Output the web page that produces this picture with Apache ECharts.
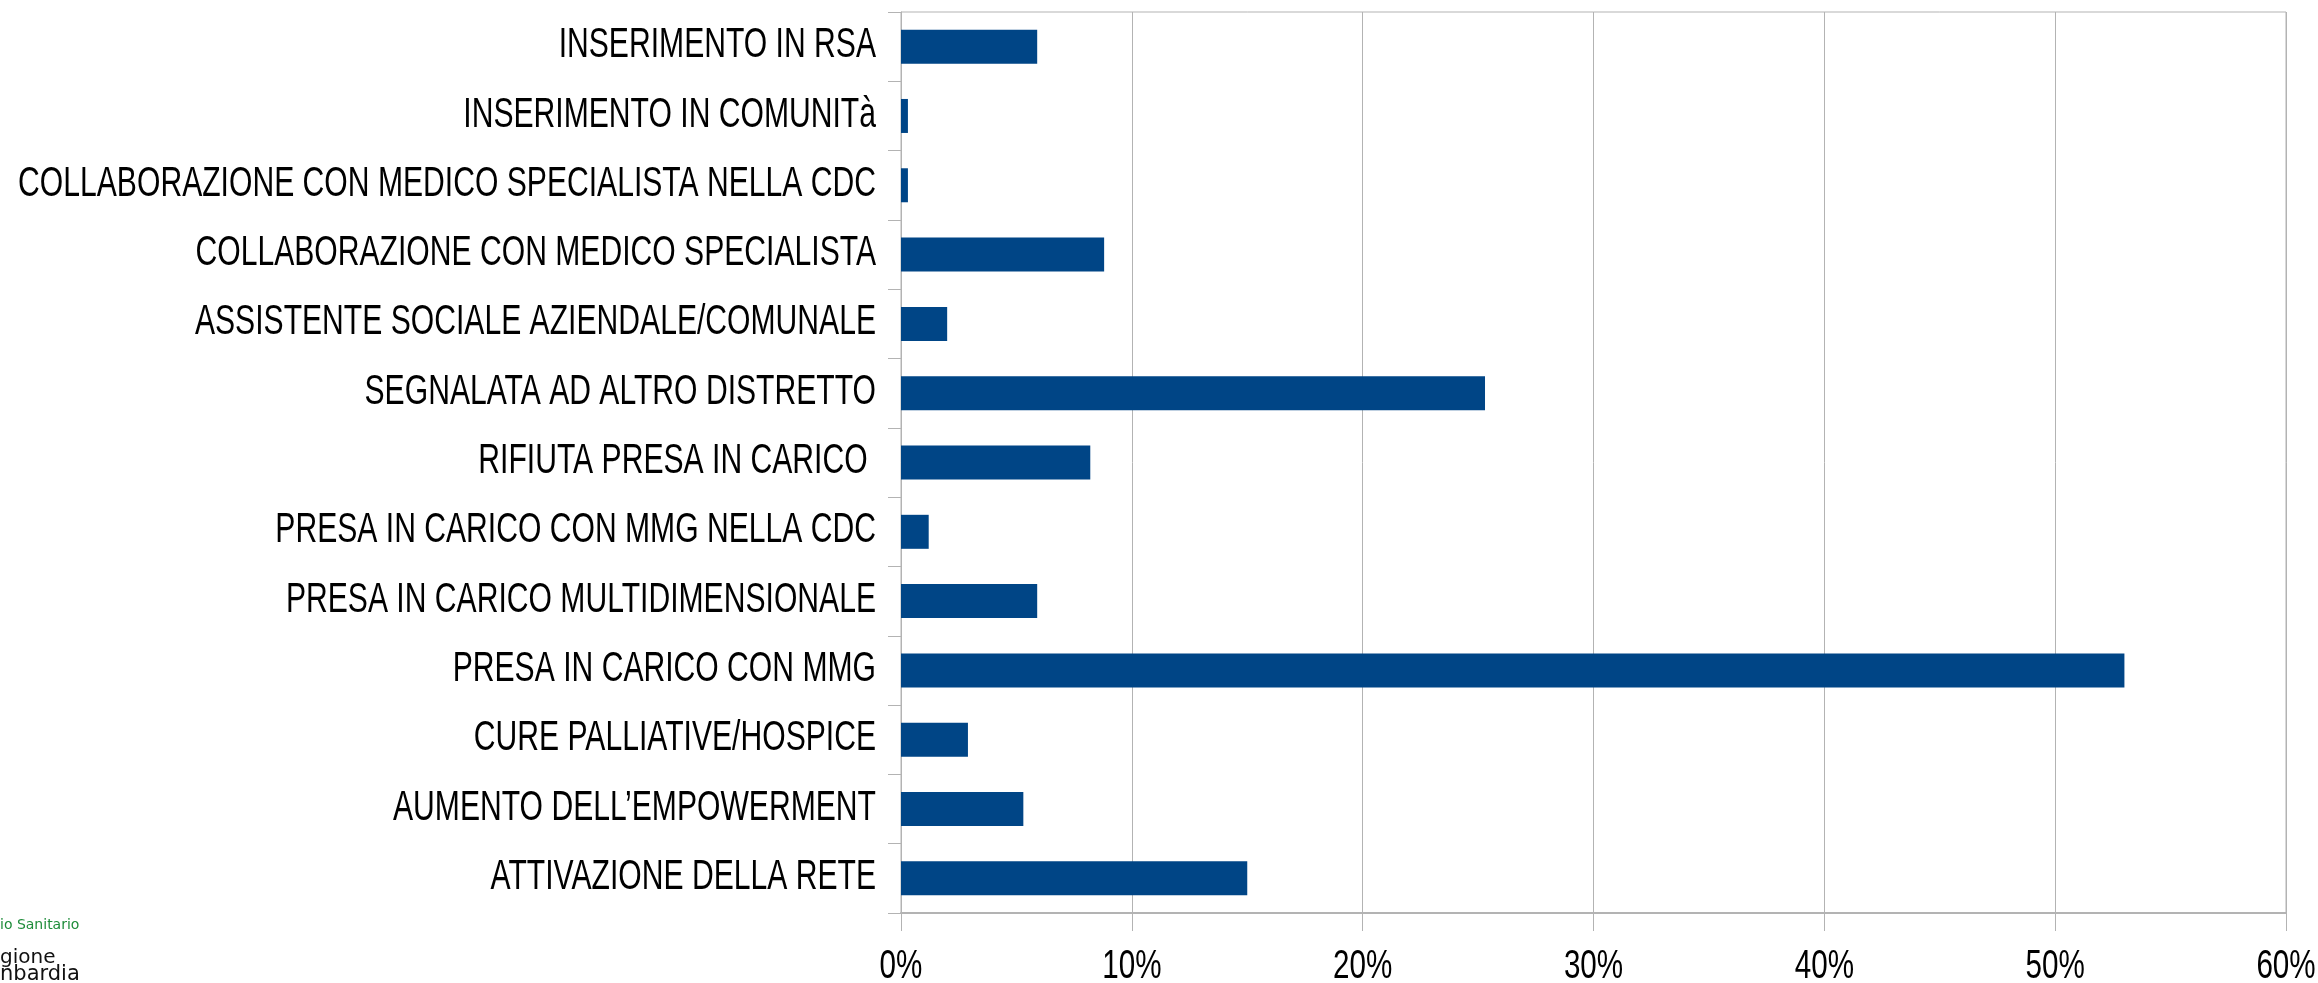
<!DOCTYPE html>
<html>
<head>
<meta charset="utf-8">
<script src="https://cdn.jsdelivr.net/npm/echarts@6/dist/echarts.min.js"></script>
<style>
  html, body { margin: 0; padding: 0; background: #fff; }
  #chart { width: 2318px; height: 983px; }
</style>
</head>
<body>
<div id="chart"></div>
<script>
// categorie, dal basso verso l'alto
var categorie = [
  'ATTIVAZIONE DELLA RETE',
  'AUMENTO DELL\u2019EMPOWERMENT',
  'CURE PALLIATIVE/HOSPICE',
  'PRESA IN CARICO CON MMG',
  'PRESA IN CARICO MULTIDIMENSIONALE',
  'PRESA IN CARICO CON MMG NELLA CDC',
  'RIFIUTA PRESA IN CARICO ',
  'SEGNALATA AD ALTRO DISTRETTO',
  'ASSISTENTE SOCIALE AZIENDALE/COMUNALE',
  'COLLABORAZIONE CON MEDICO SPECIALISTA',
  'COLLABORAZIONE CON MEDICO SPECIALISTA NELLA CDC',
  'INSERIMENTO IN COMUNITà',
  'INSERIMENTO IN RSA'
];
// percentuali
var valori = [15.0, 5.3, 2.9, 53.0, 5.9, 1.2, 8.2, 25.3, 2.0, 8.8, 0.3, 0.3, 5.9];
var tickX = [0, 10, 20, 30, 40, 50, 60];

var grigio = '#b3b3b3';
// testo stretto come nell'originale (Arial Narrow non c'e')
var fontY = '42px "Liberation Sans", Arial, sans-serif';
var fontX = '40px "Liberation Sans", Arial, sans-serif';

var myChart = echarts.init(document.getElementById('chart'));
myChart.setOption({
  animation: false,
  backgroundColor: '#ffffff',
  grid: {
    left: 901, right: 32, top: 12, bottom: 70,
    outerBoundsMode: 'none',
    show: true, borderColor: grigio, borderWidth: 1
  },
  xAxis: {
    type: 'value',
    min: tickX[0],
    max: tickX[tickX.length - 1],
    interval: 10,
    axisLine: { show: true, lineStyle: { color: grigio, width: 2 } },
    axisTick: { show: true, length: 18, lineStyle: { color: grigio } },
    splitLine: { show: true, lineStyle: { color: grigio, width: 1 } },
    axisLabel: { show: false }
  },
  yAxis: {
    type: 'category',
    data: categorie,
    axisLine: { show: true, lineStyle: { color: grigio, width: 1 } },
    axisTick: { show: true, length: 13, lineStyle: { color: grigio } },
    splitLine: { show: false },
    axisLabel: { show: false }
  },
  series: [{
    type: 'bar',
    data: valori,
    barWidth: 34,
    itemStyle: { color: '#004586' }
  }]
});

// etichette degli assi, posizionate con le scale del grafico
var gfx = [];
categorie.forEach(function (c) {
  var y = myChart.convertToPixel({ yAxisIndex: 0 }, c);
  gfx.push({
    type: 'text', x: 876, y: y - 1, scaleX: 0.717,
    style: { text: c, font: fontY, fill: '#000', align: 'right', verticalAlign: 'middle', textAlign: 'right', textVerticalAlign: 'middle' }
  });
});
tickX.forEach(function (v) {
  var x = myChart.convertToPixel({ xAxisIndex: 0 }, v);
  gfx.push({
    type: 'text', x: x, y: 967, scaleX: 0.74,
    style: { text: v + '%', font: fontX, fill: '#000', align: 'center', verticalAlign: 'middle', textAlign: 'center', textVerticalAlign: 'middle' }
  });
});
// logo tagliato in basso a sinistra
gfx.push({ type: 'text', left: 0, top: 918, style: { text: 'io Sanitario', fill: '#1e8c3a', font: '14px "DejaVu Sans", sans-serif' } });
gfx.push({ type: 'text', left: 0, top: 948, style: { text: 'gione', fill: '#111', font: '20px "DejaVu Sans", sans-serif' } });
gfx.push({ type: 'text', left: 0, top: 964, style: { text: 'nbardia', fill: '#111', font: '21px "DejaVu Sans", sans-serif' } });

myChart.setOption({ graphic: gfx });
</script>
</body>
</html>
